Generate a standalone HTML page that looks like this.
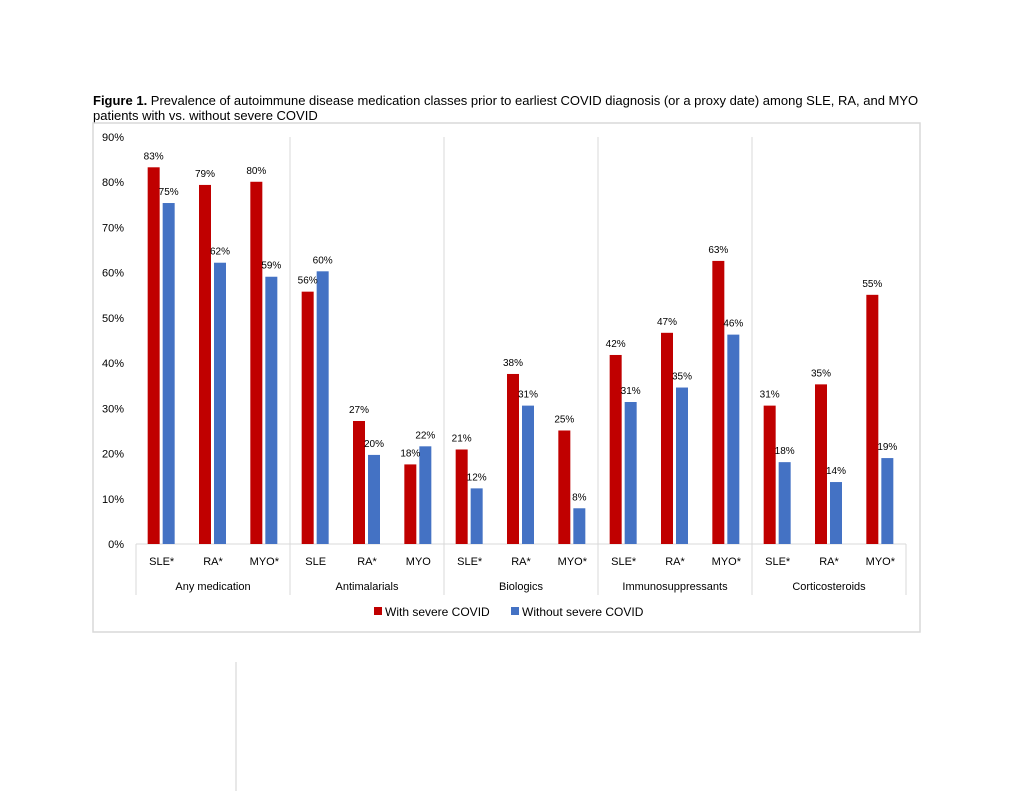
<!DOCTYPE html>
<html><head><meta charset="utf-8"><style>
body{margin:0;background:#fff;width:1024px;height:791px;overflow:hidden;font-family:"Liberation Sans",sans-serif}
#title{position:absolute;left:93px;top:93px;font-size:13px;line-height:15px;color:#000;width:840px}
</style></head><body>
<div id="title"><b>Figure 1.</b> Prevalence of autoimmune disease medication classes prior to earliest COVID diagnosis (or a proxy date) among SLE, RA, and MYO patients with vs. without severe COVID</div>
<svg id="chart" width="1024" height="791" style="position:absolute;left:0;top:0">
<rect x="93" y="123" width="827" height="509" fill="none" stroke="#d9d9d9" stroke-width="1.5"/>
<line x1="236" y1="662" x2="236" y2="791" stroke="#d0d0d0"/>
<g id="g"></g>
</svg>
<script>
const groups=["Any medication","Antimalarials","Biologics","Immunosuppressants","Corticosteroids"];
const subs=["SLE*","RA*","MYO*","SLE","RA*","MYO","SLE*","RA*","MYO*","SLE*","RA*","MYO*","SLE*","RA*","MYO*"];
const severe=[83.3,79.4,80.1,55.8,27.2,17.6,20.9,37.6,25.1,41.8,46.7,62.6,30.6,35.3,55.1];
const nonSevere=[75.4,62.2,59.1,60.3,19.7,21.6,12.3,30.6,7.9,31.4,34.6,46.3,18.1,13.7,19.0];
const yTicks=[0,10,20,30,40,50,60,70,80,90];
const NS="http://www.w3.org/2000/svg",g=document.getElementById('g');
const x0=136,x1=906,yb=544,yt=137,yMax=90;
const sw=(x1-x0)/subs.length;
const y=v=>yb-(v/yMax)*(yb-yt);
function mk(t,a,txt){const e=document.createElementNS(NS,t);for(const k in a)e.setAttribute(k,a[k]);if(txt!=null)e.textContent=txt;g.appendChild(e);return e;}
const F='"Liberation Sans",sans-serif';
yTicks.forEach(v=>{const e=mk('text',{x:124,y:y(v)+4,'text-anchor':'end','font-size':11,'font-family':F,fill:'#000'},v+'%');

});
const ax=mk('line',{x1:x0,y1:yb,x2:x1,y2:yb,stroke:'#d9d9d9'});


for(let i=0;i<=groups.length;i++){const xx=x0+i*3*sw;const l=mk('line',{x1:xx,y1:i==0||i==groups.length?yb:137,x2:xx,y2:595,stroke:'#d9d9d9'});

}
groups.forEach((n,i)=>{const e=mk('text',{x:x0+(i*3+1.5)*sw,y:590,'text-anchor':'middle','font-size':11,'font-family':F},n);

});
subs.forEach((s,i)=>{const c=x0+(i+0.5)*sw;
const t=mk('text',{x:c,y:565,'text-anchor':'middle','font-size':11,'font-family':F},s);


const r=mk('rect',{x:c-14,y:y(severe[i]),width:12,height:yb-y(severe[i]),fill:'#c00000'});


const b=mk('rect',{x:c+1,y:y(nonSevere[i]),width:12,height:yb-y(nonSevere[i]),fill:'#4472c4'});


const l1=mk('text',{x:c-8,y:y(severe[i])-8,'text-anchor':'middle','font-size':10,'font-family':F},Math.round(severe[i])+'%');


const l2=mk('text',{x:c+7,y:y(nonSevere[i])-8,'text-anchor':'middle','font-size':10,'font-family':F},Math.round(nonSevere[i])+'%');

});
const lg=[["With severe COVID","#c00000",374],["Without severe COVID","#4472c4",511]];
lg.forEach(([n,c,xx])=>{const r=mk('rect',{x:xx,y:607,width:8,height:8,fill:c});


const t=mk('text',{x:xx+11,y:616,'font-size':12,'font-family':F},n);

});
</script>
</body></html>
